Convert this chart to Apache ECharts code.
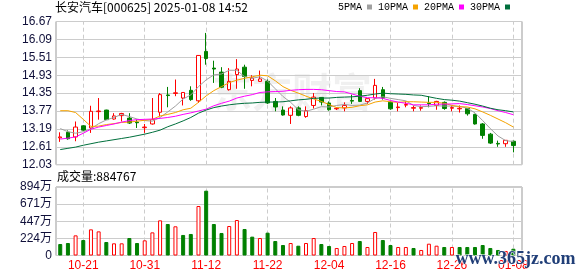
<!DOCTYPE html>
<html><head><meta charset="utf-8">
<script src="https://cdn.jsdelivr.net/npm/echarts@6/dist/echarts.min.js"></script>
<style>html,body{margin:0;padding:0;background:#fff}#c{width:578px;height:276px}</style>
</head><body><div id="c"></div>
<script>
const dates = ['10-16','10-17','10-18','10-21','10-22','10-23','10-24','10-25','10-28','10-29','10-30','10-31',
'11-01','11-04','11-05','11-06','11-07','11-08','11-11','11-12','11-13','11-14','11-15','11-18','11-19','11-20','11-21','11-22',
'11-25','11-26','11-27','11-28','11-29','12-02','12-03','12-04','12-05','12-06','12-09','12-10','12-11','12-12','12-13',
'12-16','12-17','12-18','12-19','12-20','12-23','12-24','12-25','12-26','12-27','12-30','12-31','01-02','01-03','01-06','01-07','01-08',''];
const labelDates = ['10-21','10-31','11-12','11-22','12-04','12-16','12-26','01-08'];

const openP  = [12.90,13.08,12.93,13.29,13.22,13.75,13.80,13.51,13.62,13.54,13.41,13.23,13.35,13.73,14.29,14.34,14.19,14.44,14.10,15.70,
15.16,15.03,14.46,14.95,15.19,14.76,14.73,14.73,14.08,13.80,13.63,13.87,13.59,13.95,14.21,14.03,13.84,13.87,14.11,14.43,
14.08,14.19,14.46,14.05,13.88,13.96,13.86,13.86,14.03,13.95,14.05,13.86,13.84,13.85,13.66,13.35,13.02,12.72,12.71,12.79];
const closeP = [12.93,12.87,13.25,13.15,13.76,13.77,13.49,13.61,13.69,13.38,13.39,13.25,13.49,14.30,14.27,14.36,14.37,14.14,15.57,15.47,
15.13,14.54,14.73,15.13,14.89,14.84,14.81,14.03,13.90,13.64,13.87,13.63,13.78,14.22,14.06,13.81,13.86,13.95,14.09,14.08,
14.17,14.60,14.19,13.84,13.90,13.98,13.88,13.88,14.01,14.08,13.85,13.88,13.86,13.68,13.35,12.98,12.73,12.70,12.82,12.65];
const lowP   = [12.77,12.84,12.79,13.13,13.06,13.49,13.48,13.49,13.43,13.35,13.22,13.06,13.33,13.60,13.89,14.25,13.95,14.10,14.03,15.27,
14.68,14.51,14.43,14.49,14.49,14.57,14.71,14.00,13.76,13.62,13.35,13.60,13.55,13.85,13.95,13.78,13.80,13.76,14.00,14.06,
14.00,14.14,14.14,13.81,13.76,13.89,13.76,13.78,13.89,13.81,13.81,13.76,13.72,13.62,13.33,12.87,12.70,12.61,12.61,12.43];
const highP  = [13.08,13.14,13.43,13.31,13.94,14.19,13.81,13.70,13.71,13.70,13.49,13.35,14.19,14.35,14.55,14.79,14.38,14.57,15.58,16.30,
15.40,15.19,15.16,15.45,15.27,14.93,15.08,14.79,14.19,13.92,13.92,13.92,13.92,14.35,14.22,14.08,13.89,14.05,14.30,14.51,
14.18,14.81,14.55,14.08,14.03,14.08,13.95,13.95,14.25,14.10,14.08,13.95,13.95,13.87,13.68,13.38,13.06,12.81,12.83,12.81];

const ma5  = [13.20,13.10,13.05,13.10,13.19,13.36,13.48,13.56,13.66,13.59,13.51,13.46,13.44,13.56,13.74,13.93,14.16,14.29,14.56,14.78,
14.94,14.97,15.09,15.09,14.88,14.83,14.88,14.74,14.49,14.24,14.05,13.81,13.76,13.83,13.91,13.90,13.95,13.98,13.95,13.96,
14.03,14.18,14.23,14.18,14.14,14.10,13.95,13.91,13.92,13.94,13.93,13.93,13.92,13.86,13.71,13.46,13.20,12.96,12.81,12.78];
const ma10 = [13.78,13.78,13.72,13.50,13.27,13.28,13.33,13.36,13.40,13.41,13.44,13.47,13.50,13.61,13.66,13.72,13.81,13.86,14.05,14.26,
14.43,14.56,14.69,14.77,14.83,14.88,14.93,14.91,14.75,14.56,14.44,14.35,14.25,14.16,14.08,13.98,13.88,13.87,13.89,13.94,
13.97,14.06,14.10,14.07,14.05,14.07,14.07,14.06,14.05,14.05,14.02,13.95,13.91,13.90,13.84,13.74,13.63,13.51,13.39,13.25];
const ma20 = [12.86,12.89,12.93,13.05,13.18,13.25,13.30,13.35,13.41,13.46,13.49,13.50,13.51,13.53,13.56,13.60,13.66,13.71,13.77,13.83,
13.94,14.02,14.09,14.19,14.25,14.30,14.37,14.39,14.40,14.41,14.44,14.46,14.47,14.47,14.46,14.43,14.40,14.39,14.32,14.25,
14.20,14.20,14.18,14.11,14.06,14.02,13.97,13.97,13.97,13.99,13.99,14.00,14.01,13.98,13.94,13.90,13.85,13.78,13.72,13.65];
const ma30 = [12.52,12.56,12.60,12.66,12.71,12.76,12.80,12.84,12.88,12.92,12.97,13.02,13.08,13.15,13.26,13.35,13.45,13.56,13.70,13.80,
13.88,13.93,13.97,14.00,14.02,14.03,14.05,14.06,14.06,14.07,14.10,14.13,14.15,14.18,14.19,14.19,14.21,14.22,14.23,14.25,
14.28,14.32,14.35,14.33,14.32,14.31,14.29,14.28,14.23,14.18,14.14,14.12,14.09,14.04,13.99,13.93,13.86,13.81,13.78,13.74];

const volume = [150,163,263,202,341,315,176,159,159,228,163,198,302,459,411,381,268,281,646,846,
411,294,385,463,346,246,228,298,189,137,163,128,163,228,150,124,98,124,163,189,
111,307,202,137,111,111,98,72,154,128,111,111,111,111,111,137,98,72,59,88.5];
const volUp = [0,0,1,0,1,1,0,1,1,0,0,1,1,1,0,1,0,0,1,0,
0,0,1,1,0,0,1,0,0,0,1,0,1,1,0,0,1,1,1,0,
1,1,0,0,1,1,0,1,1,1,0,1,0,0,0,0,0,0,1,0];

const priceTicks = ['12.03','12.61','13.19','13.77','14.35','14.93','15.51','16.09','16.67'];
const volTicks = ['0','224万','447万','671万','894万'];
const volMax = 894;
const maNames = ['5PMA','10PMA','20PMA','30PMA'];
const maColors = ['#a0a0a0','#f5a300','#ff00ff','#006f3c'];
const titleText = '长安汽车[000625] 2025-01-08 14:52';
const volTitle = '成交量:884767';

const numFont = '"Liberation Sans", "Noto Sans CJK SC", sans-serif';
const cjkFont = '"Noto Sans CJK SC", sans-serif';
const gridColor = '#cccccc';
const frameColor = '#999999';
const dash = [4, 3];

const candleData = openP.map((o, i) => [o, closeP[i], lowP[i], highP[i]]);
const maSeries = [ma5, ma10, ma20, ma30].map((arr, k) => ({
  name: maNames[k], type: 'line', xAxisIndex: 1, yAxisIndex: 1, data: arr,
  symbol: 'none', showSymbol: false, z: 4, color: maColors[k],
  lineStyle: { width: 1, color: maColors[k] }, silent: true
}));
const vLines = (xi, yi) => ({
  type: 'line', xAxisIndex: xi, yAxisIndex: yi, data: [], silent: true, z: 1,
  markLine: { silent: true, z: 1, symbol: ['none', 'none'], label: { show: false },
    lineStyle: { type: dash, color: gridColor, width: 1 },
    data: labelDates.map(d => ({ xAxis: d })) }
});

const chart = echarts.init(document.getElementById('c'), null, { renderer: 'canvas' });
chart.setOption({
  animation: false,
  backgroundColor: '#ffffff',
  title: [
    { text: titleText, left: 55, top: 1, padding: 0,
      textStyle: { fontSize: 12, fontWeight: 'normal', color: '#000', fontFamily: cjkFont } },
    { text: volTitle, left: 57, top: 170, padding: 0,
      textStyle: { fontSize: 12, fontWeight: 'normal', color: '#000', fontFamily: cjkFont } }
  ],
  legend: {
    data: maNames, left: 338, top: 2, padding: 0, itemWidth: 5, itemHeight: 5, itemGap: 6,
    align: 'right', icon: 'rect', selectedMode: false,
    textStyle: { fontFamily: '"Liberation Mono", monospace', fontSize: 10, color: '#000', padding: 0 }
  },
  graphic: [
    { type: 'text', left: 212, top: 72, z: 0, silent: true,
      style: { text: '东方财富', font: 'bold 40px "Noto Sans CJK SC"', fill: 'rgba(0,0,0,0.06)' } },
    { type: 'text', left: 455, top: 250, z: 100, silent: true,
      style: { text: 'www.365jz.com', font: 'bold 18px "Liberation Serif"', fill: '#213f78',
               stroke: '#ffffff', lineWidth: 1 } }
  ],
  grid: [
    { left: 56, top: 21.5, width: 466, height: 143.2, show: true, borderColor: frameColor, borderWidth: 1, backgroundColor: 'transparent' },
    { left: 56.4, top: 21.5, width: 468.5, height: 143.2 },
    { left: 56, top: 187, width: 466, height: 68.5, show: true, borderColor: frameColor, borderWidth: 1, backgroundColor: 'transparent' },
    { left: 56.4, top: 187, width: 468.5, height: 68.5 }
  ],
  xAxis: [
    { gridIndex: 0, type: 'value', min: 0, max: 1, show: false },
    { gridIndex: 1, type: 'category', data: dates, boundaryGap: true, show: false },
    { gridIndex: 2, type: 'value', min: 0, max: 1, show: false },
    { gridIndex: 3, type: 'category', data: dates, boundaryGap: true,
      axisLine: { show: false }, axisTick: { show: false }, splitLine: { show: false },
      axisLabel: { show: true, interval: (i, v) => labelDates.indexOf(v) >= 0, color: '#ff0000',
                   fontSize: 12, margin: 4, fontFamily: numFont } }
  ],
  yAxis: [
    { gridIndex: 0, type: 'value', min: 0, max: priceTicks.length - 1, interval: 1,
      axisLine: { show: false }, axisTick: { show: false },
      axisLabel: { formatter: v => priceTicks[Math.round(v)], margin: 4, fontSize: 12, color: '#10103a', fontFamily: numFont },
      splitLine: { show: true, lineStyle: { color: gridColor, width: 1 } } },
    { gridIndex: 1, type: 'value', min: +priceTicks[0], max: +priceTicks[priceTicks.length - 1], show: false },
    { gridIndex: 2, type: 'value', min: 0, max: volTicks.length - 1, interval: 1,
      axisLine: { show: false }, axisTick: { show: false },
      axisLabel: { formatter: v => volTicks[Math.round(v)], margin: 4, fontSize: 12, color: '#10103a', fontFamily: numFont },
      splitLine: { show: true, lineStyle: { color: gridColor, width: 1 } } },
    { gridIndex: 3, type: 'value', min: 0, max: volMax, show: false }
  ],
  series: [
    vLines(1, 1),
    vLines(3, 3),
    { name: 'K', type: 'candlestick', xAxisIndex: 1, yAxisIndex: 1, data: candleData, barWidth: 4, z: 3, silent: true,
      itemStyle: { color: '#ffffff', color0: '#008000', borderColor: '#ff0000', borderColor0: '#008000', borderWidth: 1 } },
    ...maSeries,
    { name: 'VOL', type: 'bar', xAxisIndex: 3, yAxisIndex: 3, barWidth: 4, z: 3, silent: true,
      data: volume.map((v, i) => ({ value: v, itemStyle: volUp[i]
        ? { color: '#ffffff', borderColor: '#ff0000', borderWidth: 1 }
        : { color: '#008000', borderColor: '#008000', borderWidth: 1 } })) }
  ]
});
</script></body></html>
